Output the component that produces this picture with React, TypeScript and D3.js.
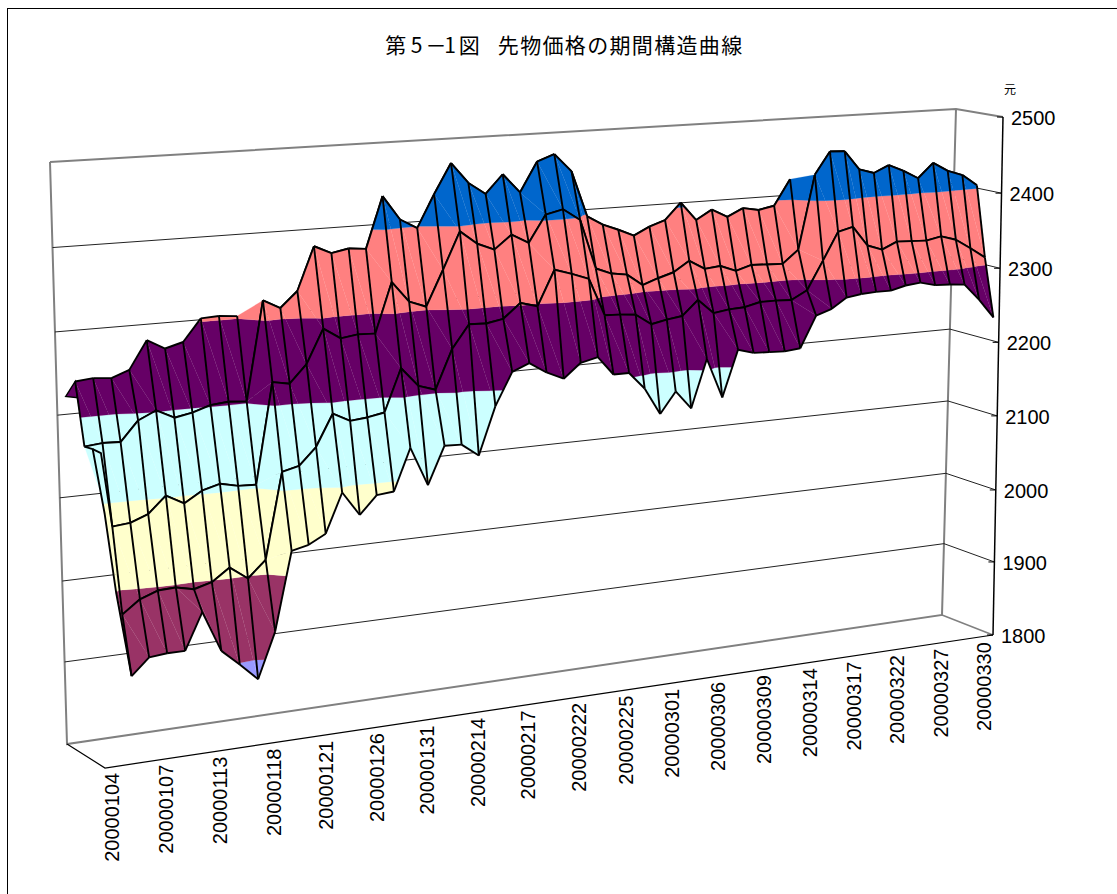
import React, { useMemo } from "react";
import * as d3 from "d3";

// Date labels, one for every third trading day.
const dateLabels = [
  "20000104", "20000107", "20000113", "20000118", "20000121", "20000126", "20000131",
  "20000214", "20000217", "20000222", "20000225", "20000301", "20000306", "20000309",
  "20000314", "20000317", "20000322", "20000327", "20000330",
];
const valueTicks = [2500, 2400, 2300, 2200, 2100, 2000, 1900, 1800];
const bandColors = ["#9999FF", "#993366", "#FFFFCC", "#CCFFFF", "#660066", "#FF8080", "#0066CC"];

// Futures prices per contract, farthest row first. A null means no quote on that day.
const contractA = [2241, 2243, 2241, 2249, 2283, 2271, 2277, 2304, 2305, 2303];
const contractB = [
  2167, 2169, 2168, 2192, 2202, 2191, 2195, 2202, 2204, 2202, 2324, 2313, 2332, 2385, 2375, 2379,
  2377, 2440, 2410, 2398, 2438, 2475, 2449, 2434, 2457, 2433, 2470, 2478, 2455, 2397, 2385, 2377,
  2368, 2378, 2385, 2406, 2382, 2394, 2383, 2393, 2389, 2393, 2426,
];
const contractC = [
  null, 2073, 2075, 2083, 2103, 2091, 2104, 2110, 2105, 2104, 2228, 2224, 2246, 2288, 2274, 2277,
  2276, 2338, 2312, 2304, 2348, 2394, 2377, 2368, 2385, 2373, 2407, 2412, 2397, 2334, 2326, 2323,
  2308, 2315, 2321, 2334, 2322, 2324, 2316, 2322, 2321, 2320, 2337, 2433, 2462, 2461, 2436, 2430,
  2439, 2430, 2419, 2438, 2426, 2419, 2404,
];
const contractD = [
  null, 1972, 1988, 1996, 1997, 1992, 1998, 2013, 1997, 2017, 2122, 2127, 2148, 2187, 2176, 2178,
  2182, 2235, 2211, 2204, 2253, 2282, 2281, 2285, 2303, 2297, 2341, 2334, 2326, 2278, 2277, 2275,
  2261, 2265, 2268, 2287, 2268, 2271, 2272, 2277, 2277, 2276, 2287, 2324, 2360, 2365, 2339, 2332,
  2341, 2340, 2339, 2343, 2337, 2324, 2310,
];
const contractE = [
  null, 1902, 1922, 1924, 1924, 1969, 1918, 1898, 1877, 1933, 2030, 2035, 2046, 2094, 2064, 2086,
  2088, 2140, 2091, 2138, 2137, 2121, 2181, 2222, 2231, 2217, 2207, 2225, 2230, 2206, 2206, 2184,
  2149, 2176, 2152, 2214, 2162, 2222, 2216, 2215, 2214, 2216, 2257, 2264, 2277, 2280, 2281, 2281,
  2286, 2288, 2283, 2282, 2280, 2258, 2232,
];
const contracts = [contractA, contractB, contractC, contractD, contractE];
const dayCount = 55;
const rowDepths = [0.1, 0.3, 0.5, 0.7, 0.9];

// Ragged left edge of the surface before the first full column: day, row, price.
const foldDays = [0.45, 0.9, 0.6, 0.7];
const foldRows = [1, 1, 2, 3];
const foldPrices = [2163, 2157, 2089, 1999];

const titleHead = "第5－1図";
const titleTail = "先物価格の期間構造曲線";

type P = { x: number; y: number; v: number };

// Corners of the plot box: back and front planes, top and bottom edges.
const box = {
  backTop: [[50, 162], [956, 109]],
  backBottom: [[67, 744], [942, 615]],
  frontTop: [[87, 176], [1003, 117]],
  frontBottom: [[105, 768], [993, 635]],
};

const lerp = (a: number, b: number, t: number) => a + (b - a) * t;

// Height of a price within the box, 0 at the top and 1 at the floor.
const heightScale = d3
  .scaleLinear()
  .domain(valueTicks)
  .range([0, 0.147, 0.292, 0.435, 0.577, 0.72, 0.859, 1]);

// Position of a trading day along the width of the box; days narrow with distance.
const dayScale = d3
  .scaleLinear()
  .domain([1, 10, 16, 28, 43, 54])
  .range([0.037, 0.219, 0.334, 0.5615, 0.82, 0.999]);

function project(u: number, d: number, f: number): [number, number] {
  const along = (pair: number[][], k: number) => lerp(pair[0][k], pair[1][k], u);
  const at = (k: number) =>
    lerp(
      lerp(along(box.backTop, k), along(box.backBottom, k), f),
      lerp(along(box.frontTop, k), along(box.frontBottom, k), f),
      d
    );
  return [at(0), at(1)];
}

function markAt(day: number, row: number, value: number): P {
  const [x, y] = project(dayScale(day), rowDepths[row], heightScale(value));
  return { x, y, v: value };
}

// Keeps the part of a triangle that lies inside one price band.
function clipBand(poly: P[], lo: number, hi: number): P[] {
  const clip = (pts: P[], limit: number, keepAbove: boolean) => {
    const out: P[] = [];
    pts.forEach((a, i) => {
      const b = pts[(i + 1) % pts.length];
      const aIn = keepAbove ? a.v >= limit : a.v <= limit;
      const bIn = keepAbove ? b.v >= limit : b.v <= limit;
      if (aIn) out.push(a);
      if (aIn !== bIn) {
        const t = (limit - a.v) / (b.v - a.v);
        out.push({ x: lerp(a.x, b.x, t), y: lerp(a.y, b.y, t), v: limit });
      }
    });
    return out;
  };
  return clip(clip(poly, lo, true), hi, false);
}

const linePath = d3
  .line<[number, number]>()
  .x((p) => p[0])
  .y((p) => p[1]);
const pointPath = (pts: P[]) => linePath(pts.map((p) => [p.x, p.y] as [number, number])) || "";

type Fill = { d: string; color: string };

function bandFills(tri: P[]): Fill[] {
  const out: Fill[] = [];
  bandColors.forEach((color, k) => {
    const part = clipBand(tri, 1800 + k * 100, 1900 + k * 100);
    if (part.length > 2) out.push({ d: pointPath(part) + "Z", color });
  });
  return out;
}

function buildStrips() {
  const grid: (P | null)[][] = contracts.map((vals, r) =>
    d3.range(dayCount).map((j) => {
      const v = vals[j];
      return v === null || v === undefined ? null : markAt(j, r, v);
    })
  );
  return d3.range(grid.length - 1).map((r) => {
    const far = grid[r];
    const near = grid[r + 1];
    const fills: Fill[] = [];
    const lines: string[] = [];
    d3.range(dayCount).forEach((j) => {
      const a = far[j];
      const b = far[j + 1];
      const c = near[j + 1];
      const e = near[j];
      if (a && e && c) fills.push(...bandFills([a, e, c]));
      if (a && b && c) fills.push(...bandFills([a, b, c]));
      if (a && e) lines.push(pointPath([a, e]));
      if (a && b) lines.push(pointPath([a, b]));
      if (e && c) lines.push(pointPath([e, c]));
    });
    return { fills, lines };
  });
}

// The folded sliver along the left edge, joined to the first full column.
function buildFold() {
  const [p0, p1, p2, p3] = foldDays.map((day, i) => markAt(day, foldRows[i], foldPrices[i]));
  const start = markAt(0, 1, contractB[0] as number);
  const b1 = markAt(1, 1, contractB[1] as number);
  const c1 = markAt(1, 2, contractC[1] as number);
  const d1 = markAt(1, 3, contractD[1] as number);
  const e1 = markAt(1, 4, contractE[1] as number);
  const fills = [
    [p0, b1, c1],
    [p0, p2, c1],
    [p2, p3, d1],
    [p2, d1, c1],
    [p3, e1, d1],
  ].flatMap(bandFills);
  const lines = [pointPath([start, p0, p2, p3, e1]), pointPath([p0, p1, c1])];
  return { fills, lines };
}

const gray = "#808080";

export default function App() {
  const strips = useMemo(buildStrips, []);
  const fold = useMemo(buildFold, []);

  const wall = (u: number, d: number, v: number) => project(u, d, heightScale(v));
  const gridPaths = valueTicks.slice(1, -1).map((v) => linePath([wall(0, 0, v), wall(1, 0, v), wall(1, 1, v)]) || "");

  // The short spur at the start of the farthest contract.
  const spurTip = markAt(-0.55, 0, 2224);
  const spurTop = markAt(0, 0, contractA[0]);
  const nextRow = markAt(0, 1, contractB[0] as number);
  const spurFoot = { x: lerp(spurTop.x, nextRow.x, 0.25), y: lerp(spurTop.y, nextRow.y, 0.25), v: 0 };

  const strokeBlack = { stroke: "#000", strokeWidth: 1.9, fill: "none", strokeLinejoin: "round" as const };

  const drawFills = (fills: Fill[]) =>
    fills.map((f, i) => <path key={i} d={f.d} fill={f.color} stroke={f.color} strokeWidth={0.2} />);
  const drawLines = (lines: string[]) => lines.map((d, i) => <path key={i} d={d} {...strokeBlack} />);

  // Glyph centres of the two title parts: the digits sit tighter than the kanji.
  const headCentres = [395.7, 416.7, 436, 450, 469.3].join(" ");
  const tailCentres = d3.range(titleTail.length).map((i) => 508.3 + i * 22.34).join(" ");

  return (
    <svg
      width={1117}
      height={894}
      style={{ position: "absolute", left: 0, top: 0, display: "block", background: "#fff" }}
      fontFamily="'Liberation Sans', Arial, sans-serif"
    >
      <rect x={7.5} y={8.5} width={1130} height={910} fill="#fff" stroke="#000" strokeWidth={1} />

      <g fontSize={21} textAnchor="middle" fontFamily="'Noto Sans CJK JP', sans-serif">
        <text x={headCentres} y={53}>{titleHead}</text>
        <text x={tailCentres} y={53}>{titleTail}</text>
      </g>

      {/* walls and floor */}
      <path d={linePath([wall(0, 0, 2500), wall(1, 0, 2500), wall(1, 1, 2500)]) || ""} fill="none" stroke={gray} strokeWidth={2} />
      <path d={linePath([wall(0, 0, 2500), wall(0, 0, 1800), wall(1, 0, 1800), wall(1, 0, 2500)]) || ""} fill="none" stroke={gray} strokeWidth={2} />
      <path d={linePath([wall(1, 0, 1800), wall(1, 1, 1800)]) || ""} fill="none" stroke={gray} strokeWidth={1.5} />
      {gridPaths.map((d, i) => (
        <path key={i} d={d} fill="none" stroke="#222" strokeWidth={1} />
      ))}
      <path d={linePath([wall(0, 0, 1800), wall(0, 1, 1800), wall(1, 1, 1800)]) || ""} fill="none" stroke="#000" strokeWidth={1.2} />
      <path d={linePath([wall(1, 1, 2500), wall(1, 1, 1800)]) || ""} fill="none" stroke="#000" strokeWidth={1.5} />

      {/* price surface, far strips painted first */}
      <path d={pointPath([spurTip, spurTop, spurFoot]) + "Z"} fill={bandColors[4]} stroke="#000" strokeWidth={1.4} />
      {drawFills(fold.fills)}
      {strips.map((s, r) => (
        <g key={r}>
          {drawFills(s.fills)}
          {drawLines(s.lines)}
        </g>
      ))}
      {drawLines(fold.lines)}

      {/* price axis labels */}
      {valueTicks.map((v) => {
        const [x, y] = wall(1, 1, v);
        return (
          <g key={v}>
            <line x1={x - 6} x2={x} y1={y} y2={y} stroke="#000" strokeWidth={1} />
            <text x={x + 8} y={y + 8} fontSize={20} fill="#000">
              {v}
            </text>
          </g>
        );
      })}
      <text x={1004} y={94} fontSize={12} fontFamily="'Noto Sans CJK JP', sans-serif">
        元
      </text>

      {/* date labels under the front edge */}
      {dateLabels.map((label, i) => {
        const [x, y] = project(dayScale(i * 3), 1, 1);
        return (
          <text
            key={label}
            transform={`translate(${x - 1},${y + 7}) rotate(-90)`}
            textAnchor="end"
            fontSize={20}
            fill="#000"
          >
            {label}
          </text>
        );
      })}
    </svg>
  );
}
